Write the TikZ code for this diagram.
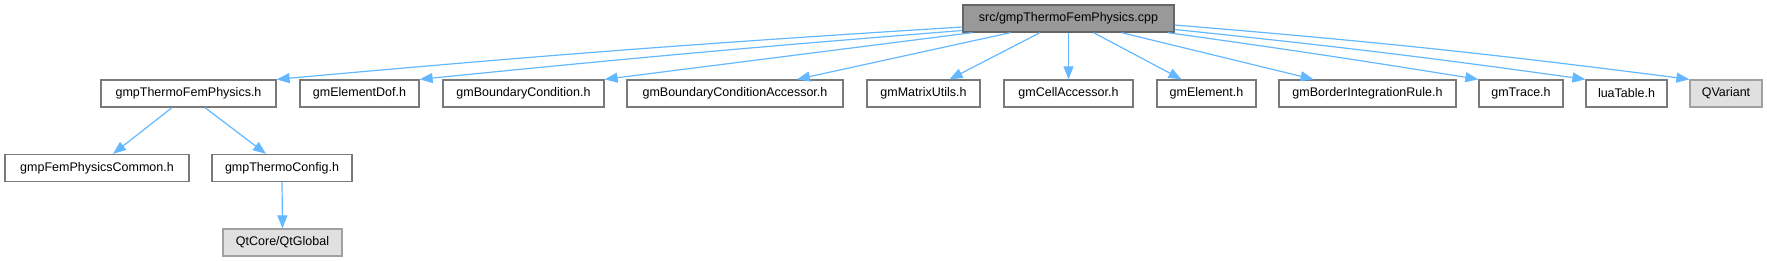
\documentclass[tikz,border=0pt]{standalone}
\usepackage{fontspec}
\setmainfont{Liberation Sans}
\usetikzlibrary{arrows.meta}
\definecolor{edgeblue}{HTML}{63B8FF}
\definecolor{rootfill}{HTML}{999999}
\definecolor{rootdraw}{HTML}{666666}
\definecolor{boxdraw}{HTML}{7A7A7A}
\definecolor{extfill}{HTML}{E0E0E0}
\definecolor{extdraw}{HTML}{A0A0A0}
\begin{document}
\begin{tikzpicture}[x=1pt,y=-1pt,
  box/.style={draw=boxdraw, fill=white, line width=1.3pt, minimum height=27pt, inner sep=0pt, font=\fontsize{12.5}{14}\selectfont, anchor=center},
  rootbox/.style={box, draw=rootdraw, fill=rootfill},
  extbox/.style={box, draw=extdraw, fill=extfill},
  dep/.style={draw=edgeblue, line width=1.2pt, -{Triangle[length=13pt,width=10pt]}}
]
\useasboundingbox (0,0) rectangle (1767,261);
% nodes
\node[rootbox, minimum width=211pt] (root) at (1068.5,18.5) {src/gmpThermoFemPhysics.cpp};
\node[box, minimum width=175pt] (tfp) at (188.5,93.5) {gmpThermoFemPhysics.h};
\node[box, minimum width=119pt] (dof) at (359.5,93.5) {gmElementDof.h};
\node[box, minimum width=161pt] (bc) at (523.5,93.5) {gmBoundaryCondition.h};
\node[box, minimum width=216pt] (bca) at (735,93.5) {gmBoundaryConditionAccessor.h};
\node[box, minimum width=113pt] (mu) at (923.5,93.5) {gmMatrixUtils.h};
\node[box, minimum width=129pt] (ca) at (1068.5,93.5) {gmCellAccessor.h};
\node[box, minimum width=99pt] (el) at (1206.5,93.5) {gmElement.h};
\node[box, minimum width=177pt] (bir) at (1367.5,93.5) {gmBorderIntegrationRule.h};
\node[box, minimum width=84pt] (tr) at (1521,93.5) {gmTrace.h};
\node[box, minimum width=81pt] (lua) at (1626.5,93.5) {luaTable.h};
\node[extbox, minimum width=72pt] (qv) at (1726,93.5) {QVariant};
\node[box, minimum width=184pt] (fpc) at (97,168) {gmpFemPhysicsCommon.h};
\node[box, minimum width=140pt] (tc) at (282,168) {gmpThermoConfig.h};
\node[extbox, minimum width=119pt] (qg) at (282.5,242.5) {QtCore/QtGlobal};
% edges from root
\draw[dep] ([yshift=-8.5pt]root.west) to[bend right=0.8] (tfp.north east);
\draw[dep] ([yshift=-12pt]root.west) to[bend right=0.6] (dof.north east);
\draw[dep] ([xshift=10pt]root.south west) -- (bc.north east);
\draw[dep] ([xshift=-58pt]root.south) -- ([xshift=62pt]bca.north);
\draw[dep] ([xshift=-28.5pt]root.south) -- ([xshift=26pt]mu.north);
\draw[dep] (root.south) -- (ca.north);
\draw[dep] ([xshift=25pt]root.south) -- ([xshift=-25pt]el.north);
\draw[dep] ([xshift=53pt]root.south) -- ([xshift=-54pt]bir.north);
\draw[dep] ([xshift=-7pt]root.south east) to[bend left=0.6] (tr.north west);
\draw[dep] ([yshift=-11pt]root.east) to[bend left=1] (lua.north west);
\draw[dep] ([yshift=-6.5pt]root.east) to[bend left=1.3] (qv.north west);
% second level
\draw[dep] ([xshift=-16.5pt]tfp.south) -- ([xshift=16pt]fpc.north);
\draw[dep] ([xshift=16.5pt]tfp.south) -- ([xshift=-16pt]tc.north);
\draw[dep] (tc.south) -- (qg.north);
\end{tikzpicture}
\end{document}
